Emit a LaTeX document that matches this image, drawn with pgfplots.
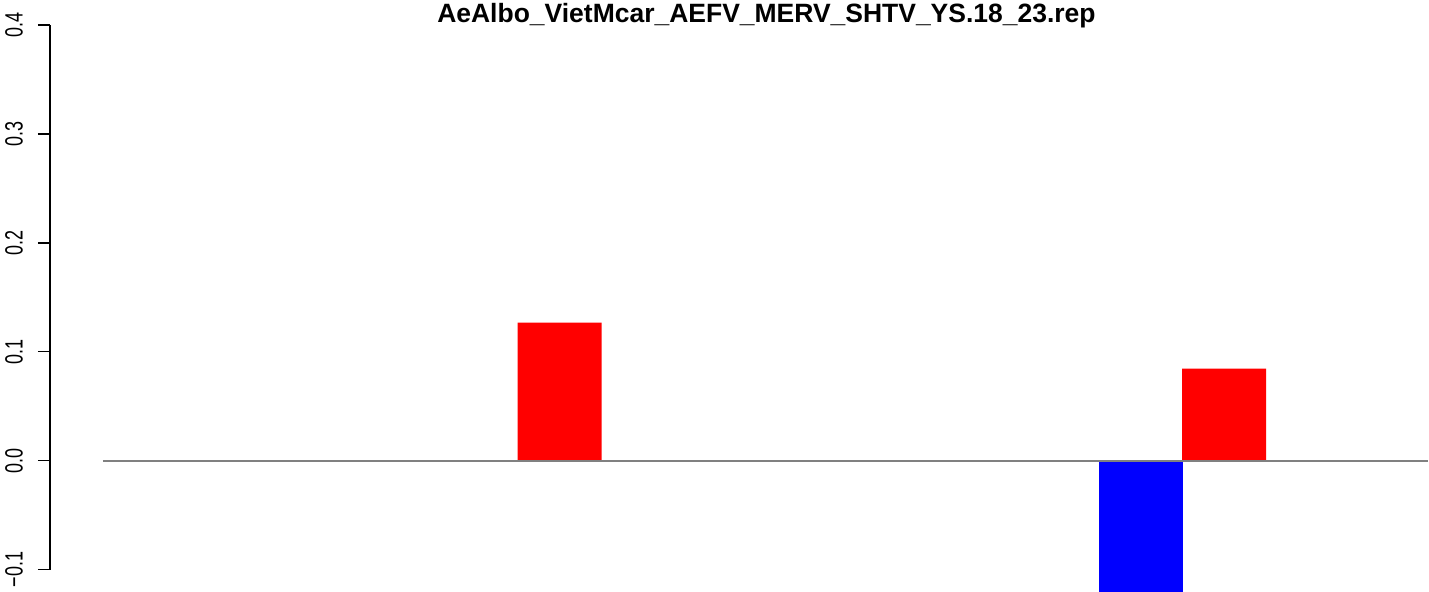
\documentclass[border=0pt]{standalone}
\usepackage{fontspec}
\setmainfont{Liberation Sans}
\usepackage{pgfplots}
\pgfplotsset{compat=1.18}
\newcommand{\tl}[1]{\scalebox{0.72}[1]{#1}}
\begin{document}
\begin{tikzpicture}
\begin{axis}[
  scale only axis,
  width=1379pt, height=592pt,
  xmin=50, xmax=1429,
  ymin=-0.1202, ymax=0.4229,
  clip=false,
  hide x axis,
  axis y line*=left,
  y axis line style={draw=none},
  ytick={-0.1,0,0.1,0.2,0.3,0.4},
  yticklabels={\tl{−0.1},\tl{0.0},\tl{0.1},\tl{0.2},\tl{0.3},\tl{0.4}},
  tick align=outside,
  major tick length=12pt,
  yticklabel style={rotate=90, anchor=south, inner sep=0pt, yshift=15pt, font=\fontsize{25}{28}\selectfont},
  ytick style={black, line width=1.5pt},
]
\draw[black, line width=1.5pt] (axis cs:50,-0.1) -- (axis cs:50,0.4);
\addplot[ybar, bar width=84, bar shift=0pt, fill=red, draw=none] coordinates {(560,0.1266) (1225,0.0844)};
\addplot[ybar, bar width=84, bar shift=0pt, fill=blue, draw=none] coordinates {(1141.5,-0.1202)};
\addplot[gray, line width=2pt] coordinates {(103,0) (1429,0)};
\node[anchor=base, font=\fontsize{26.5}{30}\selectfont\bfseries] at (axis cs:767,0.4018) {AeAlbo\_VietMcar\_AEFV\_MERV\_SHTV\_YS.18\_23.rep};
\path (axis cs:0,-0.1202) rectangle (axis cs:1429,0.4229);
\end{axis}
\end{tikzpicture}
\end{document}
